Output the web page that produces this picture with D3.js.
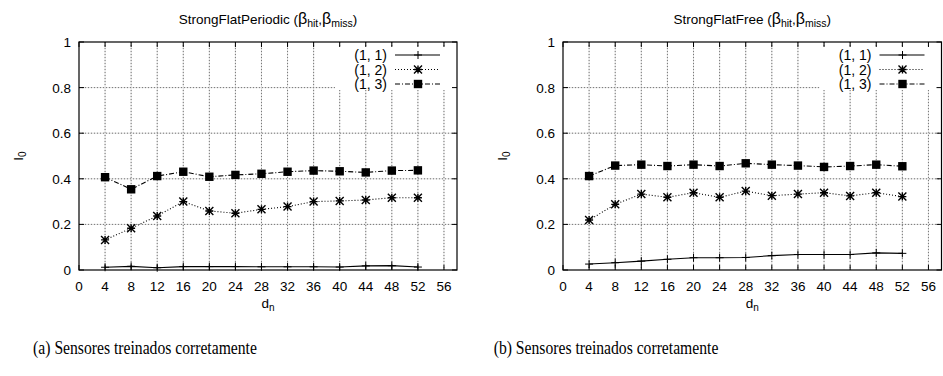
<!DOCTYPE html>
<html>
<head>
<meta charset="utf-8">
<script src="https://cdn.jsdelivr.net/npm/d3@7"></script>
<style>
  body { margin: 0; background: #fff; }
  svg { display: block; }
  text { font-family: "Liberation Sans", Arial, sans-serif; fill: #000; }
  .caption { font-family: "Liberation Serif", "Times New Roman", serif; }
</style>
</head>
<body>
<div id="chart"></div>
<script>
// node-distance values on the x axis
const dn = [4, 8, 12, 16, 20, 24, 28, 32, 36, 40, 44, 48, 52];
const xTicks = [0, 4, 8, 12, 16, 20, 24, 28, 32, 36, 40, 44, 48, 52, 56];
const yTicks = [0, 0.2, 0.4, 0.6, 0.8, 1];
const seriesNames = ['(1, 1)', '(1, 2)', '(1, 3)'];

// StrongFlatPeriodic
const periodic11 = [0.012, 0.016, 0.010, 0.015, 0.015, 0.015, 0.014, 0.014, 0.014, 0.013, 0.018, 0.019, 0.013];
const periodic12 = [0.132, 0.183, 0.237, 0.300, 0.259, 0.249, 0.266, 0.278, 0.300, 0.303, 0.307, 0.317, 0.317];
const periodic13 = [0.407, 0.354, 0.412, 0.431, 0.409, 0.417, 0.422, 0.431, 0.436, 0.433, 0.428, 0.436, 0.437];

// StrongFlatFree
const free11 = [0.026, 0.032, 0.039, 0.047, 0.054, 0.054, 0.055, 0.063, 0.068, 0.068, 0.068, 0.075, 0.073];
const free12 = [0.219, 0.288, 0.333, 0.319, 0.339, 0.319, 0.346, 0.326, 0.333, 0.339, 0.325, 0.339, 0.322];
const free13 = [0.412, 0.458, 0.462, 0.456, 0.462, 0.456, 0.468, 0.462, 0.458, 0.452, 0.456, 0.462, 0.455];

const W = 943, H = 376;
const svg = d3.select('#chart').append('svg').attr('width', W).attr('height', H);

const styles = [
  { dash: null, marker: 'plus' },
  { dash: '1,2', marker: 'star' },
  { dash: '5,2,1,2', marker: 'square' }
];

function drawMarker(g, type, cx, cy) {
  if (type === 'plus') {
    g.append('path').attr('d', `M${cx - 4},${cy}H${cx + 4}M${cx},${cy - 4}V${cy + 4}`)
      .attr('stroke', '#000').attr('stroke-width', 1);
  } else if (type === 'star') {
    g.append('path')
      .attr('d', `M${cx - 4},${cy}H${cx + 4}M${cx},${cy - 4}V${cy + 4}M${cx - 4},${cy - 4}L${cx + 4},${cy + 4}M${cx - 4},${cy + 4}L${cx + 4},${cy - 4}`)
      .attr('stroke', '#000').attr('stroke-width', 1.4);
  } else {
    g.append('rect').attr('x', cx - 4.2).attr('y', cy - 4.2).attr('width', 8.4).attr('height', 8.4).attr('fill', '#000');
  }
}

function panel(left, right, titleMain, data, caption, captionX) {
  const top = 42, bottom = 270;
  const x = d3.scaleLinear().domain([0, 58]).range([left, right]);
  const y = d3.scaleLinear().domain([0, 1]).range([bottom, top]);
  const g = svg.append('g');

  // grid
  const grid = g.append('g');
  xTicks.filter(t => t > 0).forEach(t => {
    grid.append('line').attr('x1', x(t)).attr('x2', x(t)).attr('y1', top).attr('y2', bottom)
      .attr('stroke', '#dcdcdc');
    grid.append('line').attr('x1', x(t)).attr('x2', x(t)).attr('y1', top).attr('y2', bottom)
      .attr('stroke', '#777').attr('stroke-dasharray', '1,2');
  });
  yTicks.filter(t => t > 0 && t < 1).forEach(t => {
    grid.append('line').attr('x1', left).attr('x2', right).attr('y1', y(t)).attr('y2', y(t))
      .attr('stroke', '#dcdcdc');
    grid.append('line').attr('x1', left).attr('x2', right).attr('y1', y(t)).attr('y2', y(t))
      .attr('stroke', '#777').attr('stroke-dasharray', '1,2');
  });

  // legend box clears the grid
  g.append('rect').attr('x', right - 122).attr('y', top + 4).attr('width', 121).attr('height', 44).attr('fill', '#fff');

  // ticks on all four sides
  const ticks = g.append('g').attr('stroke', '#000');
  xTicks.forEach(t => {
    ticks.append('line').attr('x1', x(t)).attr('x2', x(t)).attr('y1', bottom).attr('y2', bottom - 5);
    ticks.append('line').attr('x1', x(t)).attr('x2', x(t)).attr('y1', top).attr('y2', top + 5);
  });
  yTicks.forEach(t => {
    ticks.append('line').attr('x1', left).attr('x2', left + 5).attr('y1', y(t)).attr('y2', y(t));
    ticks.append('line').attr('x1', right).attr('x2', right - 5).attr('y1', y(t)).attr('y2', y(t));
  });

  // border
  g.append('rect').attr('x', left).attr('y', top).attr('width', right - left).attr('height', bottom - top)
    .attr('fill', 'none').attr('stroke', '#000').attr('stroke-width', 1.2);

  // tick labels
  g.append('g').selectAll('text').data(xTicks).join('text')
    .attr('x', d => x(d)).attr('y', bottom + 21).attr('text-anchor', 'middle')
    .attr('font-size', 13.5).text(d => d);
  g.append('g').selectAll('text').data(yTicks).join('text')
    .attr('x', left - 8).attr('y', d => y(d) + 5).attr('text-anchor', 'end')
    .attr('font-size', 13.5).text(d => d3.format('~g')(d));

  // series
  const line = d3.line().x((d, i) => x(dn[i])).y(d => y(d));
  data.forEach((vals, k) => {
    g.append('path').datum(vals).attr('d', line).attr('fill', 'none')
      .attr('stroke', '#000').attr('stroke-width', 1.1)
      .attr('stroke-dasharray', styles[k].dash);
    vals.forEach((v, i) => drawMarker(g, styles[k].marker, x(dn[i]), y(v)));
  });

  // legend
  seriesNames.forEach((name, k) => {
    const ly = top + 13 + k * 14.5;
    g.append('text').attr('x', right - 70).attr('y', ly + 5).attr('text-anchor', 'end')
      .attr('font-size', 14).text(name);
    g.append('line').attr('x1', right - 62).attr('x2', right - 17).attr('y1', ly).attr('y2', ly)
      .attr('stroke', '#000').attr('stroke-width', 1.1).attr('stroke-dasharray', styles[k].dash);
    drawMarker(g, styles[k].marker, right - 39, ly);
  });

  // title
  const cx = (left + right) / 2;
  const title = g.append('text').attr('x', cx).attr('y', 24).attr('text-anchor', 'middle').attr('font-size', 13.5);
  title.append('tspan').text(titleMain + ' (');
  title.append('tspan').attr('font-size', 16).text('β');
  title.append('tspan').attr('font-size', 10.5).attr('dy', 3).text('hit');
  title.append('tspan').attr('dy', -3).text(',');
  title.append('tspan').attr('font-size', 16).text('β');
  title.append('tspan').attr('font-size', 10.5).attr('dy', 3).text('miss');
  title.append('tspan').attr('dy', -3).text(')');

  // axis labels
  const xl = g.append('text').attr('x', cx).attr('y', 308).attr('text-anchor', 'middle').attr('font-size', 13.5);
  xl.append('tspan').text('d');
  xl.append('tspan').attr('font-size', 10).attr('dy', 3).text('n');

  const yl = g.append('text').attr('transform', `translate(${left - 56},${(top + bottom) / 2}) rotate(-90)`)
    .attr('text-anchor', 'middle').attr('font-size', 13.5);
  yl.append('tspan').text('I');
  yl.append('tspan').attr('font-size', 10).attr('dy', 3).text('0');

  svg.append('text').attr('class', 'caption')
    .attr('transform', `translate(${captionX},354) scale(0.87,1)`)
    .attr('text-anchor', 'middle').attr('font-size', 18).text(caption);
}

panel(79, 457, 'StrongFlatPeriodic', [periodic11, periodic12, periodic13], '(a) Sensores treinados corretamente', 145);
panel(563, 941.5, 'StrongFlatFree', [free11, free12, free13], '(b) Sensores treinados corretamente', 606);
</script>
</body>
</html>
